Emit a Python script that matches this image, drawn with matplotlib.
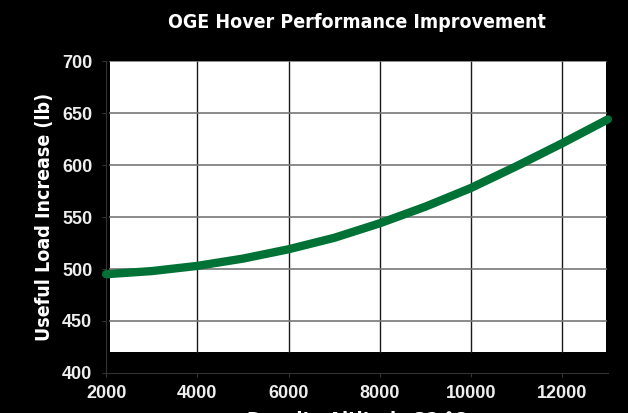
import matplotlib.pyplot as plt
from matplotlib.patches import Rectangle
from matplotlib import font_manager

# Data
altitude = [2000, 3000, 4000, 5000, 6000, 7000, 8000, 9000, 10000, 11000, 12000, 13000]
load_increase = [495, 498, 503, 510, 519, 530, 544, 560, 578, 599, 621, 644]
x_ticks = [2000, 4000, 6000, 8000, 10000, 12000]
y_ticks = [400, 450, 500, 550, 600, 650, 700]

# look for a bold condensed face for the titles
bold_narrow = None
for f in font_manager.fontManager.ttflist:
    narrow = ('Narrow' in f.name or 'Condensed' in f.name
              or 'condensed' in str(f.stretch) or 'Condensed' in f.fname)
    if narrow and (f.weight in ('bold', 700) or (isinstance(f.weight, int) and f.weight >= 700)
                   or 'Bold' in f.fname):
        bold_narrow = f.fname
        break

if bold_narrow:
    def cond(size):
        return dict(fontproperties=font_manager.FontProperties(fname=bold_narrow, size=size))
else:
    def cond(size):
        return dict(family='Liberation Sans', fontweight='bold', fontsize=size)

fig = plt.figure(figsize=(6.28, 4.13), dpi=100, facecolor='black')
ax = fig.add_axes([0.169, 0.097, 0.799, 0.755])
ax.set_facecolor('black')

# white plot panel (does not fill the whole axes in the original)
ax.add_patch(Rectangle((2080, 420), 12950 - 2080, 280, facecolor='white',
                       edgecolor='none', zorder=0))

for x in x_ticks[1:]:
    ax.plot([x, x], [420, 700], color='#1a1a1a', lw=1, zorder=1)
for y in y_ticks[1:]:
    ax.plot([2080, 12950], [y, y], color='#777777', lw=1.2, zorder=1)

ax.plot(altitude, load_increase, color='#007236', lw=6, solid_capstyle='round',
        zorder=3, clip_on=False)

ax.set_xlim(2000, 13000)
ax.set_ylim(400, 700)
ax.set_xticks(x_ticks)
ax.set_yticks(y_ticks)

for s in ['top', 'right']:
    ax.spines[s].set_visible(False)
for s in ['left', 'bottom']:
    ax.spines[s].set_color('#333333')
ax.tick_params(colors='#333333', labelcolor='#eeeeee', labelsize=13, length=3)
ax.tick_params(axis='y', pad=7)
ax.tick_params(axis='x', pad=6)
for lab in ax.get_xticklabels() + ax.get_yticklabels():
    lab.set_fontweight('bold')
    lab.set_family('Liberation Sans')

ax.set_title('OGE Hover Performance Improvement', color='white', pad=24, **cond(14))
ax.set_ylabel('Useful Load Increase (lb)', color='white', labelpad=6, **cond(14))
ax.set_xlabel('Density Altitude 32 °C', color='white', labelpad=6, **cond(14))

fig.savefig('out.png', dpi=100, facecolor='black')
